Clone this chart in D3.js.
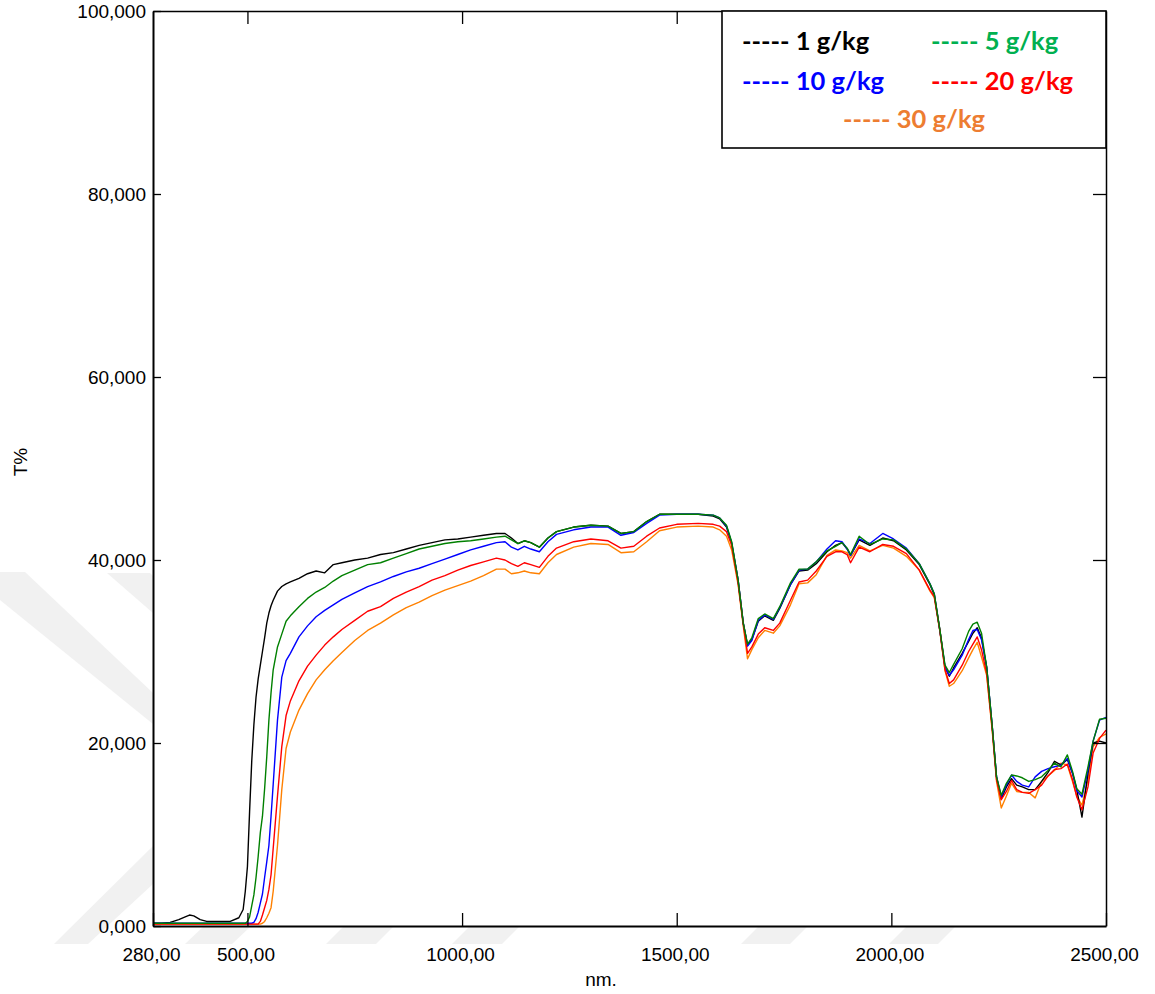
<!DOCTYPE html>
<html>
<head>
<meta charset="utf-8">
<script src="https://cdn.jsdelivr.net/npm/d3@7"></script>
<style>
  html, body { margin: 0; padding: 0; background: #fff; }
  svg { display: block; }
  .tick text { font-family: "Liberation Sans", Arial, sans-serif; font-size: 19px; fill: #000; }
</style>
</head>
<body>
<svg id="chart" width="1155" height="994"></svg>
<script>
// ---------------- DATA ----------------
const wavelengths = [
  280,300,320,340,355,365,375,390,405,430,
  460,480,490,495,500,505,510,515,520,525,
  530,535,540,545,550,555,560,570,580,590,
  600,620,640,660,680,700,720,750,780,810,
  840,870,900,930,960,990,1020,1050,1080,1100,
  1115,1130,1145,1160,1180,1200,1220,1260,1300,1340,
  1370,1400,1430,1460,1500,1550,1585,1600,1616,1628,
  1643,1655,1665,1675,1690,1705,1725,1740,1765,1785,
  1805,1825,1850,1870,1885,1897,1905,1925,1950,1980,
  2005,2035,2065,2090,2100,2113,2125,2135,2145,2165,
  2180,2190,2200,2210,2222,2235,2245,2256,2268,2280,
  2292,2305,2320,2335,2350,2365,2380,2395,2410,2422,
  2432,2444,2458,2470,2485,2500
];

const t1 = [ // 1 g/kg
  0.3,0.3,0.4,0.7,1.0,1.2,1.1,0.7,0.5,0.5,
  0.5,0.9,1.8,3.8,6.5,12.5,18,22,25,27,
  28.5,30,31.5,33.1,34.2,35.0,35.6,36.6,37.1,37.4,
  37.6,38.0,38.5,38.8,38.6,39.5,39.7,40.0,40.2,40.6,
  40.8,41.2,41.6,41.9,42.2,42.3,42.5,42.7,42.9,42.9,
  42.4,41.8,42.1,41.9,41.4,42.4,43.1,43.6,43.8,43.7,
  42.9,43.1,44.2,45.0,45.0,45.0,44.8,44.5,43.6,41.8,
  37.8,33.1,30.7,31.3,33.3,33.9,33.4,34.7,37.3,38.8,
  38.9,39.6,40.9,41.6,41.9,41.2,40.5,42.2,41.6,42.4,
  42.1,41.1,39.5,37.3,36.2,32.3,28.3,27.3,28.2,29.8,
  31.1,32.0,32.6,31.5,28.3,21.8,16.3,13.9,15.2,16.1,
  15.4,15.2,14.9,14.9,15.8,16.8,18.0,17.6,18.2,16.7,
  14.9,11.9,16.7,20.0,20.2,20.0
];

const t5 = [ // 5 g/kg
  0.3,0.3,0.3,0.3,0.3,0.3,0.3,0.3,0.3,0.3,
  0.3,0.3,0.3,0.3,0.5,1.0,2.2,3.4,5.3,7.6,
  10.2,12,15,18.5,22.5,25.5,28,30.5,31.9,33.3,
  33.9,34.9,35.8,36.5,37.0,37.7,38.3,38.9,39.5,39.7,
  40.2,40.7,41.2,41.5,41.8,42.0,42.1,42.3,42.5,42.6,
  42.2,41.8,42.1,41.9,41.4,42.4,43.1,43.6,43.8,43.7,
  42.9,43.1,44.2,45.0,45.0,45.0,44.9,44.6,43.8,42.0,
  37.8,33.1,30.8,31.5,33.6,34.1,33.6,34.9,37.5,39.0,
  39.0,39.8,41.0,41.5,41.9,41.3,40.6,42.6,41.7,42.3,
  42.2,41.2,39.6,37.4,36.3,32.4,28.5,27.7,28.6,30.3,
  32.2,33.0,33.2,32.0,28.3,21.8,16.3,14.3,15.6,16.5,
  16.4,16.2,15.8,16.0,16.3,17.0,17.8,17.4,18.7,16.9,
  15.0,14.4,17.4,20.2,22.6,22.7
];

const t10 = [ // 10 g/kg
  0.3,0.3,0.3,0.3,0.3,0.3,0.3,0.3,0.3,0.3,
  0.3,0.3,0.3,0.3,0.3,0.3,0.3,0.4,0.8,1.5,
  2.5,3.5,5.3,7.0,8.8,12,15.5,22.5,27.2,29.0,
  29.8,31.6,32.8,33.8,34.5,35.1,35.7,36.4,37.1,37.6,
  38.2,38.7,39.1,39.6,40.1,40.6,41.1,41.5,41.9,42.0,
  41.4,41.1,41.5,41.2,40.9,42.0,42.8,43.3,43.6,43.6,
  42.7,43.0,44.0,44.9,45.0,45.0,44.9,44.6,43.7,41.9,
  37.8,33.1,30.6,31.2,33.4,34.0,33.5,34.8,37.3,38.9,
  39.0,39.8,41.2,42.1,42.0,41.2,40.5,42.3,41.8,42.9,
  42.3,41.3,39.6,37.4,36.3,32.3,28.3,27.4,28.0,29.6,
  31.3,32.3,32.4,31.3,28.3,21.8,16.3,14.1,15.4,16.5,
  15.8,15.4,15.2,16.3,16.9,17.2,17.4,17.6,18.3,16.7,
  14.8,14.1,17.0,20.2,22.5,22.8
];

const t20 = [ // 20 g/kg
  0.2,0.2,0.2,0.2,0.2,0.2,0.2,0.2,0.2,0.2,
  0.2,0.2,0.2,0.2,0.2,0.2,0.2,0.2,0.2,0.2,
  0.5,1.2,2.0,2.8,4.0,5.6,8.5,14.2,19.6,23.0,
  24.6,26.8,28.4,29.6,30.7,31.6,32.4,33.4,34.4,34.9,
  35.8,36.5,37.1,37.8,38.3,38.9,39.4,39.8,40.2,40.0,
  39.6,39.3,39.7,39.5,39.2,40.4,41.3,42.0,42.3,42.1,
  41.3,41.5,42.6,43.5,43.9,44.0,43.9,43.7,43.1,41.6,
  37.5,33.0,29.8,30.5,31.9,32.6,32.3,33.1,35.6,37.6,
  37.8,38.8,40.4,40.9,40.9,40.6,39.7,41.4,40.9,41.7,
  41.5,40.7,38.9,36.7,36.0,32.3,28.0,26.5,26.9,28.5,
  30.0,30.8,31.6,30.2,27.6,21.5,16.0,13.8,14.7,15.9,
  14.9,14.6,14.5,14.9,15.4,16.4,17.1,17.2,17.7,16.0,
  14.1,12.7,15.2,18.9,20.5,21.4
];

const t30 = [ // 30 g/kg
  0.2,0.2,0.2,0.2,0.2,0.2,0.2,0.2,0.2,0.2,
  0.2,0.2,0.2,0.2,0.2,0.2,0.2,0.2,0.2,0.2,
  0.2,0.3,0.5,0.9,1.4,2.0,3.8,8.8,14.9,19.4,
  21.2,23.6,25.4,26.9,28.0,29.0,29.9,31.2,32.3,33.1,
  34.0,34.8,35.4,36.1,36.7,37.2,37.7,38.3,39.0,39.0,
  38.5,38.6,38.8,38.6,38.5,39.7,40.6,41.4,41.8,41.7,
  40.8,40.9,42.0,43.2,43.6,43.7,43.6,43.3,42.6,41.1,
  37.3,32.8,29.2,30.2,31.5,32.3,32.0,32.8,35.1,37.4,
  37.5,38.4,40.5,41.1,41.0,40.8,40.2,41.6,41.0,41.6,
  41.3,40.4,38.9,36.6,35.9,32.2,27.9,26.2,26.5,27.9,
  29.3,30.2,31.0,29.4,27.4,21.3,15.8,12.9,14.2,15.6,
  14.7,14.6,14.6,14.0,15.8,16.4,17.0,17.8,17.6,15.8,
  14.2,13.2,16.0,19.6,20.6,21.0
];

const seriesNames = ["1 g/kg", "5 g/kg", "10 g/kg", "20 g/kg", "30 g/kg"];
const lineColors  = ["#000000", "#008000", "#0000ff", "#ff0000", "#ff8000"];
const legendColors = ["#000000", "#00b050", "#0000ff", "#ff0000", "#ed7d31"];
const xTicks = [280, 500, 1000, 1500, 2000, 2500];
const yTicks = [0, 20, 40, 60, 80, 100];
const xTitle = "nm.";
const yTitle = "T%";

// ---------------- CHART ----------------
const svg = d3.select("#chart");
const m = { left: 153, top: 11, right: 1106, bottom: 926 };
const x = d3.scaleLinear().domain([280, 2500]).range([m.left, m.right]);
const y = d3.scaleLinear().domain([0, 100]).range([m.bottom, m.top]);

// faint background watermark (decorative, as in the scanned source)
const wm = svg.append("g").attr("fill", "#f1f1f1");
[
  [[0,572],[25,572],[153,693],[153,724],[0,600]],
  [[107,573],[150,573],[153,576],[153,613]],
  [[54,944],[88,944],[153,884],[153,846]],
  [[185,944],[232,944],[250,927],[203,927]],
  [[326,944],[376,944],[393,927],[343,927]],
  [[452,944],[502,944],[519,927],[469,927]],
  [[741,944],[790,944],[807,927],[758,927]],
  [[889,944],[938,944],[955,927],[906,927]]
].forEach(p => wm.append("polygon").attr("points", p.map(q => q.join(",")).join(" ")));

const values = [t1, t5, t10, t20, t30];
const series = values.map((v, i) => ({
  name: seriesNames[i], color: lineColors[i],
  pts: wavelengths.map((w, j) => [w, v[j]])
}));

const line = d3.line().x(d => x(d[0])).y(d => y(d[1]));
const drawOrder = [4, 0, 2, 3, 1];
svg.append("g").selectAll("path").data(drawOrder.map(i => series[i])).join("path")
  .attr("d", d => line(d.pts))
  .attr("fill", "none")
  .attr("stroke", d => d.color)
  .attr("stroke-width", 1.4)
  .attr("stroke-linejoin", "round");

const fmtX = d => d.toFixed(2).replace(".", ",");
const fmtY = d => d.toFixed(3).replace(".", ",");

// bottom axis
const gx = svg.append("g").attr("transform", `translate(0,${m.bottom})`)
  .call(d3.axisBottom(x).tickValues(xTicks).tickFormat(fmtX).tickSize(-13).tickSizeOuter(0).tickPadding(22));
gx.select(".domain").attr("stroke-width", 2);
gx.selectAll(".tick text").attr("dx", -2);
// top axis (ticks only)
const gt = svg.append("g").attr("transform", `translate(0,${m.top})`)
  .call(d3.axisTop(x).tickValues([500, 1000, 1500, 2000]).tickFormat("").tickSize(-13).tickSizeOuter(0));
gt.select(".domain").attr("stroke-width", 1.5);
// left axis
const gy = svg.append("g").attr("transform", `translate(${m.left},0)`)
  .call(d3.axisLeft(y).tickValues(yTicks).tickFormat(fmtY).tickSize(-8).tickSizeOuter(0).tickPadding(7));
gy.select(".domain").attr("stroke-width", 2);
// right axis (ticks only)
const gr = svg.append("g").attr("transform", `translate(${m.right},0)`)
  .call(d3.axisRight(y).tickValues([20, 40, 60, 80]).tickFormat("").tickSize(-13).tickSizeOuter(0));
gr.select(".domain").attr("stroke-width", 1.5);
svg.selectAll(".tick line").attr("stroke-width", 1.3);

// titles
svg.append("text").attr("x", 601).attr("y", 986).attr("text-anchor", "middle")
  .style("font-family", "Liberation Sans, Arial, sans-serif").style("font-size", "19px").text(xTitle);
svg.append("text").attr("transform", "translate(27,462) rotate(-90)").attr("text-anchor", "middle")
  .style("font-family", "Liberation Sans, Arial, sans-serif").style("font-size", "19px").text(yTitle);

// legend
const lg = svg.append("g");
lg.append("rect").attr("x", 722).attr("y", 11).attr("width", 384).attr("height", 137)
  .attr("fill", "#fff").attr("stroke", "#000").attr("stroke-width", 1.6);
const legendPos = [[742, 50], [931, 50], [742, 90], [931, 90], [843, 128]];
lg.selectAll("text").data(seriesNames).join("text")
  .attr("x", (d, i) => legendPos[i][0]).attr("y", (d, i) => legendPos[i][1])
  .attr("fill", (d, i) => legendColors[i])
  .style("font-family", "Lato, 'Open Sans', sans-serif").style("font-weight", "bold").style("font-size", "25.5px")
  .text(d => "----- " + d);
</script>
</body>
</html>
